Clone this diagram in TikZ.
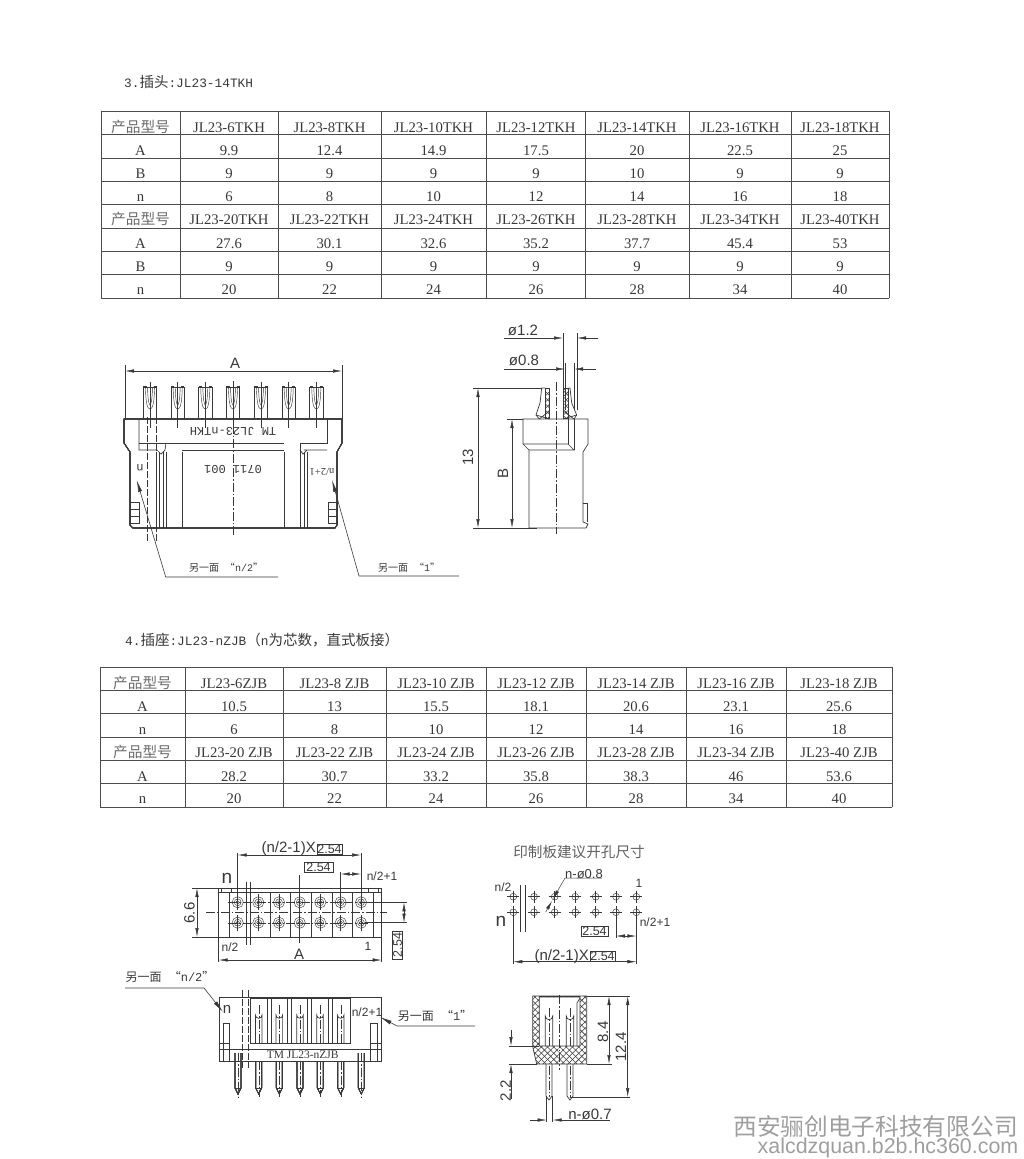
\documentclass[tikz,border=0pt]{standalone}
\usepackage{fontspec}
\setmainfont{Liberation Serif}
\setsansfont{Liberation Sans}
\setmonofont{Liberation Mono}
\newfontfamily\cjk{Noto Sans CJK SC}
\usetikzlibrary{arrows.meta,patterns.meta}
\definecolor{ink}{gray}{0.22}
\definecolor{mark}{gray}{0.62}
\tikzset{
  part/.style={draw=ink, line width=.7pt},
  thinpart/.style={draw=ink, line width=.45pt},
  centerline/.style={draw=ink, line width=.4pt, dash pattern=on 9pt off 2pt on 1.5pt off 2pt},
  breakline/.style={draw=ink, line width=.6pt, dash pattern=on 7pt off 2pt},
  dimline/.style={draw=ink, line width=.5pt, <->, >={Latex[length=9pt,width=3.4pt]}},
  dimtip/.style={draw=ink, line width=.5pt, ->, >={Latex[length=9pt,width=3.4pt]}},
  leader/.style={draw=ink, line width=.6pt, <-, >={Latex[length=12pt,width=4pt]}},
  rule/.style={draw=ink!90, line width=.9pt},
  cell/.style={anchor=base, inner sep=0pt, text=ink, font=\fontsize{14.7}{16}\selectfont},
  heading/.style={anchor=west, inner sep=0pt, text=ink, font=\ttfamily\fontsize{12.8}{14}\selectfont},
  cad/.style={inner sep=0pt, text=ink, font=\sffamily\fontsize{15}{16}\selectfont},
  cadsmall/.style={inner sep=0pt, text=ink, font=\sffamily\fontsize{12}{14}\selectfont},
  cadbig/.style={inner sep=0pt, text=ink, font=\sffamily\fontsize{19}{20}\selectfont},
  stamp/.style={inner sep=0pt, text=ink, font=\ttfamily\fontsize{12}{13}\selectfont},
  note/.style={inner sep=0pt, text=ink, font=\ttfamily\fontsize{10}{12}\selectfont},
  notebig/.style={inner sep=0pt, text=ink, font=\ttfamily\fontsize{12}{14}\selectfont},
  boxed/.style={draw=ink, line width=.7pt, inner sep=0pt, minimum height=10pt, text=ink, font=\sffamily\fontsize{12.5}{13}\selectfont},
  hatchone/.style={pattern={Lines[angle=45,distance=4.4pt,line width=.55pt]}, pattern color=ink},
  hatchtwo/.style={pattern={Lines[angle=-45,distance=4.4pt,line width=.55pt]}, pattern color=ink}
}
\def\colsa{{140.5,229,329.5,433.5,536,637,740,840}}
\def\colsb{{142.5,234,334.5,436,536,636,736,839}}
\newcommand{\typelabel}{{\cjk\color{ink!75}产品型号}}
\newcommand{\headcn}[1]{{\cjk\fontsize{14.5}{14}\selectfont #1}}
\newcommand{\drawrow}[4]{
  \foreach \txt [count=\i] in {#4}{
    \pgfmathsetmacro{\cx}{#2[\i-1]}
    \node[cell] (#1\i) at (\cx, #3) {\txt};
  }
}
\newcommand{\drawplugpin}[1]{
  \draw[part] (#1-6.7, 419) -- (#1-6.7, 387) -- (#1+6.7, 387) -- (#1+6.7, 419);
  \draw[line width=1.3pt, ink] (#1-6.7, 387) -- (#1-3.5, 387) (#1+3.5, 387) -- (#1+6.7, 387);
  \draw[thinpart] (#1-4.6, 387) .. controls (#1-4.2, 404) and (#1-2.5, 409) .. (#1, 409)
    .. controls (#1+2.5, 409) and (#1+4.2, 404) .. (#1+4.6, 387);
  \draw[thinpart] (#1-2.5, 387) .. controls (#1-2.2, 400) and (#1-1, 405) .. (#1, 405)
    .. controls (#1+1, 405) and (#1+2.2, 400) .. (#1+2.5, 387);
  \draw[thinpart] (#1, 381.5) -- (#1, 428);
}
\newcommand{\drawhole}[2]{
  \draw[thinpart] (#1, #2) circle (5.6) (#1, #2) circle (3.4);
  \draw[thinpart] (#1, #2) circle (1.7);
  \draw[thinpart] (#1, #2-8) -- (#1, #2+8);
}
\newcommand{\drawdrill}[2]{
  \draw[thinpart] (#1, #2) circle (3.4);
  \draw[thinpart] (#1-6, #2) -- (#1+6, #2) (#1, #2-6) -- (#1, #2+6);
}
\newcommand{\drawslotpin}[1]{
  \draw[part] (#1-3.3, 1043) -- (#1-3.3, 1015) arc (180:0:3.3) -- (#1+3.3, 1043);
  \draw[centerline] (#1, 1005) -- (#1, 1043);
}
\newcommand{\drawtail}[2]{
  \draw[part] (#1-3, #2) -- (#1-3, 1088) -- (#1, 1094) -- (#1+3, 1088) -- (#1+3, #2);
  \draw[thinpart] (#1-3, 1088) -- (#1+3, 1088);
  \draw[centerline] (#1, #2) -- (#1, 1097);
}
\newcommand{\hatcharea}[1]{
  \path[hatchone, even odd rule] #1;
  \path[hatchtwo, even odd rule] #1;
  \draw[part] #1;
}

\begin{document}
\begin{tikzpicture}[x=1pt, y=-1pt]
  \useasboundingbox (0, 0) rectangle (1024, 1159);

  \node[heading] (titleplug) at (124, 82) {3.\headcn{插头}:JL23-14TKH};
  \foreach \y in {111, 134, 158, 181, 204, 228, 251, 274, 298}
    \draw[rule] (101, \y) -- (889, \y);
  \foreach \x in {101, 180, 278, 381, 486, 585, 689, 791, 889}
    \draw[rule] (\x, 111) -- (\x, 298);
  \drawrow{pa}{\colsa}{132}{\typelabel, JL23-6TKH, JL23-8TKH, JL23-10TKH, JL23-12TKH, JL23-14TKH, JL23-16TKH, JL23-18TKH}
  \drawrow{pb}{\colsa}{155}{A, 9.9, 12.4, 14.9, 17.5, 20, 22.5, 25}
  \drawrow{pc}{\colsa}{178}{B, 9, 9, 9, 9, 10, 9, 9}
  \drawrow{pd}{\colsa}{201}{n, 6, 8, 10, 12, 14, 16, 18}
  \drawrow{pe}{\colsa}{224}{\typelabel, JL23-20TKH, JL23-22TKH, JL23-24TKH, JL23-26TKH, JL23-28TKH, JL23-34TKH, JL23-40TKH}
  \drawrow{pf}{\colsa}{248}{A, 27.6, 30.1, 32.6, 35.2, 37.7, 45.4, 53}
  \drawrow{pg}{\colsa}{271}{B, 9, 9, 9, 9, 9, 9, 9}
  \drawrow{ph}{\colsa}{294}{n, 20, 22, 24, 26, 28, 34, 40}

  % plug, front
  \draw[dimline] (125, 371) -- (342, 371);
  \draw[thinpart] (125, 365) -- (125, 419) (342, 365) -- (342, 419);
  \node[cad] (plugA) at (235, 363) {A};
  \foreach \x in {150, 177.7, 205.3, 233, 261, 288.7, 316.3}
    \drawplugpin{\x}
  \draw[part] (124, 419) -- (124, 443) -- (130, 452) -- (130, 525) -- (133, 528)
    -- (335, 528) -- (337, 525) -- (337, 452) -- (342, 443) -- (342, 419) -- cycle;
  \draw[part] (139, 419) -- (139, 450) -- (157, 450) -- (161, 454) -- (165, 450) -- (166, 443);
  \draw[part] (139, 443) -- (284, 443) (182, 450) -- (284, 450);
  \draw[part] (300, 528) -- (300, 443) -- (327, 443) -- (327, 419);
  \draw[part] (304, 450) -- (327, 450) (300, 450) -- (303, 454) -- (307, 450);
  \foreach \x in {156, 159.3, 163, 166, 182, 284, 300, 304, 307}
    \draw[part] (\x, 452) -- (\x, 528);
  \foreach \x in {130, 328}{
    \draw[part] (\x, 502) rectangle (\x+9, 523);
    \draw[part] (\x, 509.5) -- (\x+9, 509.5) (\x, 516.5) -- (\x+9, 516.5);
  }
  \draw[centerline] (233, 381) -- (233, 535);
  \draw[breakline] (147.7, 417) -- (147.7, 542) (156, 417) -- (156, 542);
  \node[stamp, rotate=180] (plugname) at (233, 431) {TM JL23-nTKH};
  \node[stamp, rotate=180] (plugdate) at (233, 469) {0711 001};
  \node[stamp, rotate=180] (plugn) at (140, 467.5) {n};
  \node[inner sep=0pt, text=ink, font=\rmfamily\fontsize{10.5}{12}\selectfont, rotate=180] (plugnb) at (322, 472) {n/2+1};
  \draw[leader] (136.7, 480) -- (165.7, 577) -- (278, 577);
  \draw[leader] (332, 480) -- (359, 576) -- (459, 576);
  \node[note] (plugleft) at (226, 568) {{\cjk 另一面} {\cjk “}n/2{\cjk ”}};
  \node[note] (plugright) at (409, 568) {{\cjk 另一面} {\cjk “}1{\cjk ”}};

  % plug, side
  \node[cad] (dia12) at (523, 330) {ø1.2};
  \node[cad] (dia08) at (524, 360) {ø0.8};
  \draw[thinpart] (563, 333) -- (563, 410) (577, 333) -- (577, 410);
  \draw[thinpart] (565, 363) -- (565, 410) (574, 363) -- (574, 410);
  \draw[dimtip] (504, 338) -- (563, 338);
  \draw[dimtip] (598, 338) -- (577, 338);
  \draw[dimtip] (504, 369) -- (565, 369);
  \draw[dimtip] (596, 369) -- (574, 369);
  \draw[thinpart] (473, 388) -- (542, 388) (473, 528) -- (537, 528) (507, 419) -- (523, 419);
  \draw[dimline] (478, 388) -- (478, 528);
  \draw[dimline] (512, 419) -- (512, 528);
  \node[cad, rotate=90] (dim13) at (468, 457) {13};
  \node[cad, rotate=90] (dimB) at (503, 473) {B};
  \draw[part] (523, 419) -- (588, 419) -- (588, 444) -- (583, 452) -- (583, 522) -- (588, 524)
    -- (586, 528) -- (529, 528) -- (529, 450) -- (523, 444) -- cycle;
  \draw[part] (523, 444) -- (568, 444) -- (574, 450) -- (529, 450);
  \draw[part] (568, 419) -- (568, 444) (574, 419) -- (574, 450);
  \draw[part] (583, 503) -- (587, 503) -- (587, 522);
  \draw[centerline] (556, 382) -- (556, 534);
  \draw[part] (541.7, 388) -- (540, 403) -- (536, 415) -- (539.3, 419);
  \hatcharea{(545, 388) -- (549.3, 388) -- (549.3, 418) -- (545, 418) -- cycle}
  \draw[part] (541.7, 388) -- (545, 388) (536, 415) -- (549.3, 419) (539.3, 419) -- (549.3, 411);
  \draw[part] (570, 388) -- (571.7, 403) -- (576.7, 415) -- (574, 419);
  \hatcharea{(563.3, 388) -- (568.5, 388) -- (568.5, 418) -- (563.3, 418) -- cycle}
  \draw[part] (568.5, 388) -- (570, 388) (563.3, 419) -- (576.7, 415) (563.3, 411) -- (574, 419);

  \node[heading] (titlesocket) at (125, 640) {4.\headcn{插座}:JL23-nZJB\headcn{（}n\headcn{为芯数，直式板接）}};
  \foreach \y in {667, 690, 713, 737, 760, 783, 807}
    \draw[rule] (100, \y) -- (892, \y);
  \foreach \x in {100, 185, 283, 386, 486, 586, 686, 786, 892}
    \draw[rule] (\x, 667) -- (\x, 807);
  \drawrow{sa}{\colsb}{688}{\typelabel, JL23-6ZJB, JL23-8 ZJB, JL23-10 ZJB, JL23-12 ZJB, JL23-14 ZJB, JL23-16 ZJB, JL23-18 ZJB}
  \drawrow{sb}{\colsb}{711}{A, 10.5, 13, 15.5, 18.1, 20.6, 23.1, 25.6}
  \drawrow{sc}{\colsb}{734}{n, 6, 8, 10, 12, 14, 16, 18}
  \drawrow{sd}{\colsb}{757}{\typelabel, JL23-20 ZJB, JL23-22 ZJB, JL23-24 ZJB, JL23-26 ZJB, JL23-28 ZJB, JL23-34 ZJB, JL23-40 ZJB}
  \drawrow{se}{\colsb}{781}{A, 28.2, 30.7, 33.2, 35.8, 38.3, 46, 53.6}
  \drawrow{sf}{\colsb}{803}{n, 20, 22, 24, 26, 28, 34, 40}

  % socket, top
  \draw[part] (218.7, 888) rectangle (381.7, 937);
  \draw[part] (218.7, 892) -- (381.7, 892);
  \draw[part] (221.7, 888) -- (221.7, 892) (231.7, 888) -- (231.7, 892)
    (368.3, 888) -- (368.3, 892) (378.3, 888) -- (378.3, 892);
  \foreach \x in {229.7, 270.7, 290.7, 311.3, 332, 352.7, 373.7}
    \draw[part] (\x, 892) -- (\x, 937);
  \foreach \x in {237.7, 258.3, 279, 299.7, 320.3, 340.7, 361}{
    \drawhole{\x}{902.3}
    \drawhole{\x}{922.7}
  }
  \draw[centerline] (228, 902.3) -- (368, 902.3) (228, 922.7) -- (368, 922.7);
  \draw[centerline] (206, 912.5) -- (387, 912.5);
  \draw[thinpart] (299.7, 875) -- (299.7, 943);
  \draw[part] (246.7, 882) -- (246.7, 945) (250.7, 882) -- (250.7, 945);
  \draw[thinpart] (237.7, 853) -- (237.7, 902) (361, 853) -- (361, 902) (340.7, 872) -- (340.7, 902);
  \draw[dimline] (237.7, 855) -- (361, 855);
  \node[cad, anchor=east] (pitcha) at (316, 849) {(n/2-1)X};
  \node[boxed, minimum width=25pt] (pitchabox) at (329.5, 849.5) {2.54};
  \node[boxed, minimum width=29pt] (pitchb) at (318.5, 867.5) {2.54};
  \draw[dimline] (340.7, 874) -- (361, 874);
  \node[cadsmall] (topnb) at (382, 876) {n/2+1};
  \node[cadbig] (topn) at (227, 878) {n};
  \node[cadsmall] (topnhalf) at (230, 947) {n/2};
  \node[cadsmall] (topone) at (368, 946) {1};
  \draw[thinpart] (192, 888) -- (218.7, 888) (192, 937) -- (218.7, 937);
  \draw[dimline] (197, 888) -- (197, 937);
  \node[cad, rotate=90] (dim66) at (189.5, 913) {6.6};
  \draw[thinpart] (218.7, 937) -- (218.7, 962) (381.7, 937) -- (381.7, 962);
  \draw[dimline] (218.7, 960) -- (381.7, 960);
  \node[cad] (topA) at (299, 954) {A};
  \draw[thinpart] (365, 902.3) -- (407, 902.3) (365, 922.7) -- (407, 922.7);
  \draw[dimline] (404, 902.3) -- (404, 922.7);
  \node[boxed, minimum width=28pt, rotate=90] (pitchc) at (397.5, 945) {2.54};

  % socket, front
  \draw[part] (219, 997) rectangle (381.7, 1061);
  \draw[part] (250, 997) rectangle (350, 1043);
  \draw[part] (250, 998.5) -- (350, 998.5);
  \foreach \x in {267.3, 271.7, 287.3, 291.7, 307.7, 311.7, 328.3, 332.7}
    \draw[thinpart] (\x, 998) -- (\x, 1043);
  \draw[part] (219, 1049) -- (381.7, 1049);
  \draw[part] (223.3, 1061) -- (223.3, 1023) -- (229.3, 1023) -- (229.3, 1061);
  \draw[part] (370.7, 1061) -- (370.7, 1023) -- (377.3, 1023) -- (377.3, 1061);
  \draw[part] (219, 1043) -- (229.3, 1043) (370.7, 1043) -- (381.7, 1043);
  \foreach \x in {258.7, 279.3, 300, 320, 340.7}
    \drawslotpin{\x}
  \foreach \x/\s in {238/1053, 258.7/1061, 279.3/1061, 300/1061, 320.3/1061, 340.7/1061, 361.3/1053}
    \drawtail{\x}{\s}
  \draw[breakline] (242.7, 990) -- (242.7, 1068) (248.3, 990) -- (248.3, 1068);
  \node[inner sep=0pt, text=ink, font=\rmfamily\fontsize{11.5}{12}\selectfont] (sockname) at (302.7, 1054.5) {TM JL23-nZJB};
  \node[cad] (frontn) at (227, 1009) {n};
  \node[cadsmall] (frontnb) at (367, 1012) {n/2+1};
  \draw[leader] (223, 1012) -- (204, 988) -- (125, 988);
  \draw[leader] (380, 1017) -- (397, 1026) -- (475, 1026);
  \node[notebig] (frontleft) at (170, 977) {{\cjk 另一面} {\cjk “}n/2{\cjk ”}};
  \node[notebig] (frontright) at (435, 1016) {{\cjk 另一面} {\cjk “}1{\cjk ”}};

  % drilling plan
  \node[inner sep=0pt, text=ink!80, font=\cjk\fontsize{14.6}{16}\selectfont] (plantitle) at (579, 852) {印制板建议开孔尺寸};
  \foreach \x in {513.3, 534, 554.7, 575.3, 595.7, 616, 636.3}{
    \drawdrill{\x}{896.7}
    \drawdrill{\x}{912.3}
  }
  \draw[part] (520, 885) -- (520, 932) (525.7, 885) -- (525.7, 932);
  \node[cadsmall] (planhalf) at (503, 887) {n/2};
  \node[cadsmall] (planone) at (639, 883) {1};
  \node[cadbig] (plann) at (501, 921) {n};
  \node[cadsmall] (plannb) at (655, 922) {n/2+1};
  \node[cad, font=\sffamily\fontsize{13}{14}\selectfont] (planhole) at (584, 874) {n-ø0.8};
  \draw[dimtip] (602, 878) -- (565, 878) -- (553, 899);
  \draw[dimtip] (545.7, 912) -- (552, 901);
  \draw[thinpart] (513.3, 912) -- (513.3, 964) (636.3, 912) -- (636.3, 964) (616, 912) -- (616, 938);
  \draw[dimline] (513.3, 961.7) -- (636.3, 961.7);
  \draw[dimline] (616, 936) -- (636.3, 936);
  \node[boxed, minimum width=27pt] (planpitch) at (594.5, 931) {2.54};
  \node[cad, anchor=east] (planrow) at (589, 957) {(n/2-1)X};
  \node[boxed, minimum width=25pt] (planrowbox) at (602.5, 956.5) {2.54};

  % socket, section
  \hatcharea{(532.7, 996) -- (586.7, 996) -- (586.7, 1064) -- (536.7, 1064) -- (532.7, 1046.7) -- cycle
    (539.3, 997) -- (539.3, 1046) -- (580, 1046) -- (580, 997) -- cycle}
  \draw[part] (532.7, 1046.5) -- (539.3, 1046.5);
  \draw[part] (577, 1046) -- (577, 1003) -- (580, 998);
  \foreach \x in {549, 570}{
    \draw[part] (\x-3.7, 1046) -- (\x-3.7, 1016) arc (180:0:3.7) -- (\x+3.7, 1046);
    \draw[centerline] (\x, 1008) -- (\x, 1046);
    \draw[part] (\x-3, 1064) -- (\x-3, 1096) -- (\x, 1100) -- (\x+3, 1096) -- (\x+3, 1064);
    \draw[centerline] (\x, 1066) -- (\x, 1097);
  }
  \draw[centerline] (559, 995) -- (559, 1070);
  \draw[thinpart] (546.7, 1096) -- (546.7, 1122) (552.7, 1096) -- (552.7, 1122);
  \draw[thinpart] (586.7, 996) -- (630, 996) (586.7, 1064) -- (612, 1064) (570, 1097) -- (630, 1097);
  \draw[dimline] (609, 996) -- (609, 1064);
  \draw[dimline] (627.7, 996) -- (627.7, 1097);
  \node[cad, rotate=90] (dim84) at (603, 1032) {8.4};
  \node[cad, rotate=90] (dim124) at (621, 1047) {12.4};
  \draw[thinpart] (509, 1046) -- (533, 1046) (509, 1064) -- (537, 1064);
  \draw[dimtip] (511, 1030) -- (511, 1046);
  \draw[dimtip] (511, 1099) -- (511, 1064);
  \node[cad, rotate=90] (dim22) at (505.7, 1090.7) {2.2};
  \draw[dimtip] (530, 1120) -- (546.7, 1120);
  \draw[dimtip] (610, 1120) -- (552.7, 1120);
  \node[cad] (dim07) at (590, 1114) {n-ø0.7};

  \node[inner sep=0pt, text=mark, font=\cjk\fontsize{23.7}{24}\selectfont] (markcn) at (875.5, 1126) {西安骊创电子科技有限公司};
  \node[inner sep=0pt, text=mark, font=\sffamily\fontsize{21.4}{24}\selectfont] (markurl) at (888, 1148) {xalcdzquan.b2b.hc360.com};
\end{tikzpicture}
\end{document}
